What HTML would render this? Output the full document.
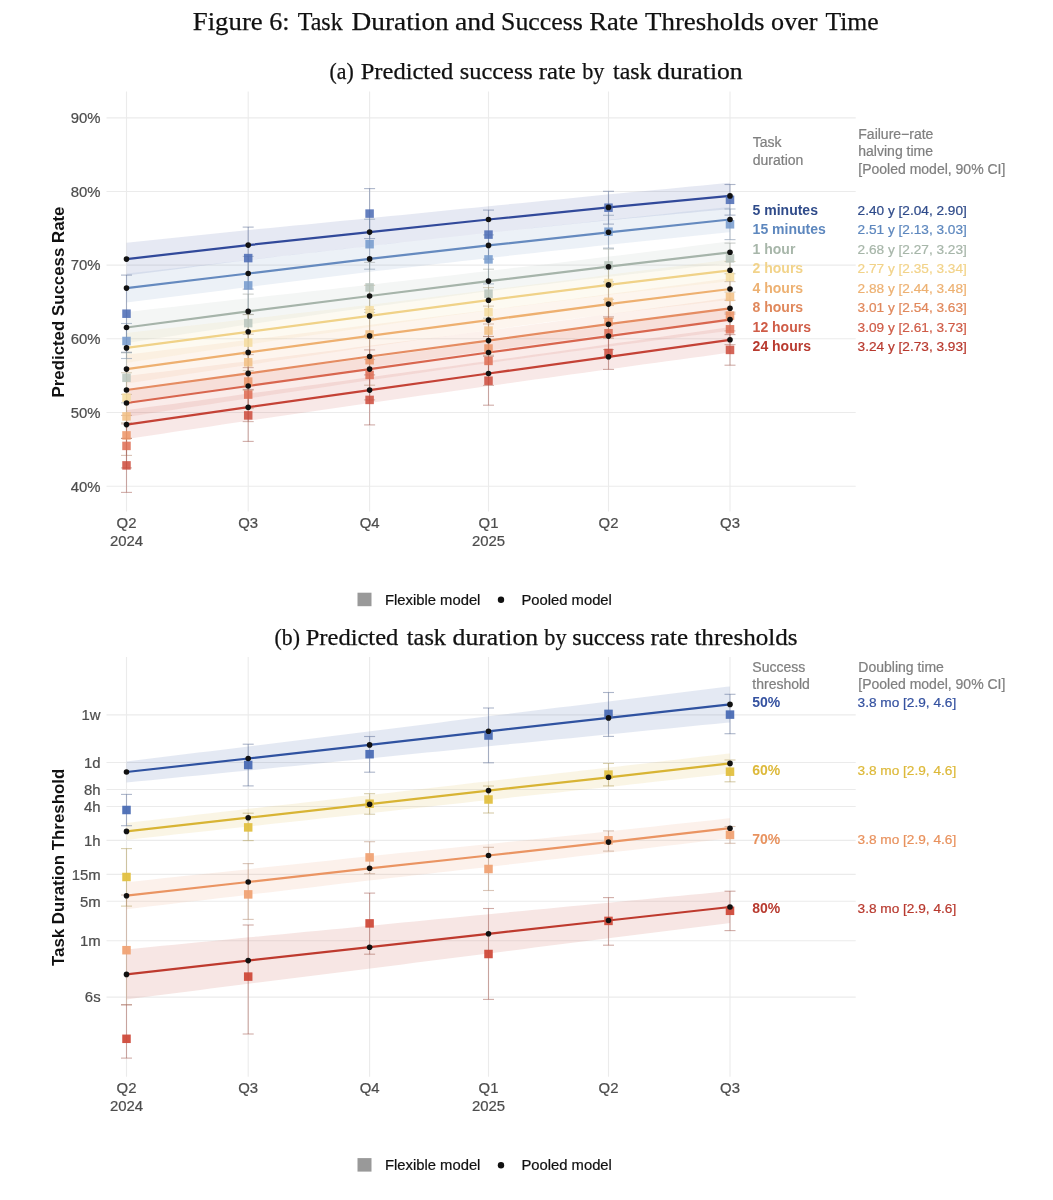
<!DOCTYPE html>
<html><head><meta charset="utf-8"><title>Figure 6: Task Duration and Success Rate Thresholds over Time</title>
<style>html,body{margin:0;padding:0;background:#fff;}body{width:1053px;height:1200px;overflow:hidden;}svg{display:block;will-change:transform;}.s{font-family:'Liberation Sans', sans-serif;}.t{font-family:'Liberation Serif', serif;}</style>
</head><body>
<svg width="1053" height="1200" viewBox="0 0 1053 1200">
<g class="t" font-size="26" fill="#111" stroke="#111" stroke-width="0.25">
<text x="192.77" y="30" textLength="69.95" lengthAdjust="spacingAndGlyphs">Figure</text>
<text x="269.29" y="30" textLength="20.35" lengthAdjust="spacingAndGlyphs">6:</text>
<text x="297.7" y="30" textLength="45.05" lengthAdjust="spacingAndGlyphs">Task</text>
<text x="351.55" y="30" textLength="97.2" lengthAdjust="spacingAndGlyphs">Duration</text>
<text x="454.93" y="30" textLength="40.05" lengthAdjust="spacingAndGlyphs">and</text>
<text x="501.01" y="30" textLength="81.92" lengthAdjust="spacingAndGlyphs">Success</text>
<text x="589.28" y="30" textLength="48.8" lengthAdjust="spacingAndGlyphs">Rate</text>
<text x="645" y="30" textLength="119.57" lengthAdjust="spacingAndGlyphs">Thresholds</text>
<text x="771.1" y="30" textLength="46.41" lengthAdjust="spacingAndGlyphs">over</text>
<text x="825.4" y="30" textLength="53.26" lengthAdjust="spacingAndGlyphs">Time</text>
</g>
<g class="t" font-size="23" fill="#111" stroke="#111" stroke-width="0.25">
<text x="329.55" y="79.4" textLength="24.15" lengthAdjust="spacingAndGlyphs">(a)</text>
<text x="360.73" y="79.4" textLength="92.62" lengthAdjust="spacingAndGlyphs">Predicted</text>
<text x="459.84" y="79.4" textLength="73" lengthAdjust="spacingAndGlyphs">success</text>
<text x="538.72" y="79.4" textLength="37.08" lengthAdjust="spacingAndGlyphs">rate</text>
<text x="582.2" y="79.4" textLength="22.2" lengthAdjust="spacingAndGlyphs">by</text>
<text x="613" y="79.4" textLength="38.46" lengthAdjust="spacingAndGlyphs">task</text>
<text x="657.08" y="79.4" textLength="85.65" lengthAdjust="spacingAndGlyphs">duration</text>
</g>
<g class="t" font-size="23" fill="#111" stroke="#111" stroke-width="0.25">
<text x="274.56" y="644.8" textLength="25.33" lengthAdjust="spacingAndGlyphs">(b)</text>
<text x="305.73" y="644.8" textLength="92.62" lengthAdjust="spacingAndGlyphs">Predicted</text>
<text x="406.8" y="644.8" textLength="39.27" lengthAdjust="spacingAndGlyphs">task</text>
<text x="452.58" y="644.8" textLength="85.55" lengthAdjust="spacingAndGlyphs">duration</text>
<text x="544.3" y="644.8" textLength="22.2" lengthAdjust="spacingAndGlyphs">by</text>
<text x="572.25" y="644.8" textLength="72.69" lengthAdjust="spacingAndGlyphs">success</text>
<text x="650.51" y="644.8" textLength="37.5" lengthAdjust="spacingAndGlyphs">rate</text>
<text x="694.4" y="644.8" textLength="103.11" lengthAdjust="spacingAndGlyphs">thresholds</text>
</g>
<line x1="106.5" x2="855.7" y1="117.9" y2="117.9" stroke="#EBEBEB" stroke-width="1.1"/>
<line x1="106.5" x2="855.7" y1="191.5" y2="191.5" stroke="#EBEBEB" stroke-width="1.1"/>
<line x1="106.5" x2="855.7" y1="265.1" y2="265.1" stroke="#EBEBEB" stroke-width="1.1"/>
<line x1="106.5" x2="855.7" y1="338.8" y2="338.8" stroke="#EBEBEB" stroke-width="1.1"/>
<line x1="106.5" x2="855.7" y1="412.5" y2="412.5" stroke="#EBEBEB" stroke-width="1.1"/>
<line x1="106.5" x2="855.7" y1="486.2" y2="486.2" stroke="#EBEBEB" stroke-width="1.1"/>
<line x1="126.5" x2="126.5" y1="91.5" y2="511.4" stroke="#EBEBEB" stroke-width="1.1"/>
<line x1="248.2" x2="248.2" y1="91.5" y2="511.4" stroke="#EBEBEB" stroke-width="1.1"/>
<line x1="369.6" x2="369.6" y1="91.5" y2="511.4" stroke="#EBEBEB" stroke-width="1.1"/>
<line x1="488.5" x2="488.5" y1="91.5" y2="511.4" stroke="#EBEBEB" stroke-width="1.1"/>
<line x1="608.5" x2="608.5" y1="91.5" y2="511.4" stroke="#EBEBEB" stroke-width="1.1"/>
<line x1="730" x2="730" y1="91.5" y2="511.4" stroke="#EBEBEB" stroke-width="1.1"/>
<text class="s" x="100.6" y="123.2" font-size="14.9" text-anchor="end" fill="#4D4D4D" stroke="#4D4D4D" stroke-width="0.22">90%</text>
<text class="s" x="100.6" y="196.8" font-size="14.9" text-anchor="end" fill="#4D4D4D" stroke="#4D4D4D" stroke-width="0.22">80%</text>
<text class="s" x="100.6" y="270.4" font-size="14.9" text-anchor="end" fill="#4D4D4D" stroke="#4D4D4D" stroke-width="0.22">70%</text>
<text class="s" x="100.6" y="344.1" font-size="14.9" text-anchor="end" fill="#4D4D4D" stroke="#4D4D4D" stroke-width="0.22">60%</text>
<text class="s" x="100.6" y="417.8" font-size="14.9" text-anchor="end" fill="#4D4D4D" stroke="#4D4D4D" stroke-width="0.22">50%</text>
<text class="s" x="100.6" y="491.5" font-size="14.9" text-anchor="end" fill="#4D4D4D" stroke="#4D4D4D" stroke-width="0.22">40%</text>
<polygon points="126.5,242.7 138.5,241.47 150.5,240.23 162.5,238.99 174.5,237.75 186.5,236.51 198.5,235.26 210.5,234.02 222.5,232.76 234.5,231.51 246.5,230.25 258.5,229.08 270.5,227.91 282.5,226.74 294.5,225.57 306.5,224.39 318.5,223.21 330.5,222.03 342.5,220.84 354.5,219.65 366.5,218.45 378.5,217.27 390.5,216.08 402.5,214.89 414.5,213.69 426.5,212.49 438.5,211.29 450.5,210.08 462.5,208.87 474.5,207.65 486.5,206.43 498.5,205.26 510.5,204.09 522.5,202.92 534.5,201.75 546.5,200.57 558.5,199.38 570.5,198.19 582.5,197 594.5,195.8 606.5,194.6 618.5,193.45 630.5,192.32 642.5,191.17 654.5,190.03 666.5,188.88 678.5,187.72 690.5,186.56 702.5,185.4 714.5,184.23 726.5,183.05 730,182.71 730,209.09 726.5,209.41 714.5,210.51 702.5,211.61 690.5,212.72 678.5,213.83 666.5,214.94 654.5,216.06 642.5,217.19 630.5,218.32 618.5,219.45 606.5,220.6 594.5,221.82 582.5,223.04 570.5,224.27 558.5,225.5 546.5,226.74 534.5,227.98 522.5,229.22 510.5,230.47 498.5,231.72 486.5,232.99 474.5,234.31 462.5,235.64 450.5,236.97 438.5,238.31 426.5,239.65 414.5,240.99 402.5,242.34 390.5,243.69 378.5,245.05 366.5,246.41 354.5,247.79 342.5,249.17 330.5,250.55 318.5,251.94 306.5,253.33 294.5,254.72 282.5,256.12 270.5,257.52 258.5,258.92 246.5,260.34 234.5,261.84 222.5,263.35 210.5,264.86 198.5,266.37 186.5,267.89 174.5,269.4 162.5,270.92 150.5,272.45 138.5,273.97 126.5,275.5" fill="#31499A" fill-opacity="0.12"/>
<polygon points="126.5,273.6 138.5,272.25 150.5,270.91 162.5,269.56 174.5,268.2 186.5,266.85 198.5,265.5 210.5,264.14 222.5,262.78 234.5,261.42 246.5,260.05 258.5,258.68 270.5,257.31 282.5,255.94 294.5,254.56 306.5,253.18 318.5,251.8 330.5,250.42 342.5,249.04 354.5,247.65 366.5,246.26 378.5,244.93 390.5,243.61 402.5,242.29 414.5,240.97 426.5,239.65 438.5,238.33 450.5,237 462.5,235.67 474.5,234.34 486.5,233 498.5,231.71 510.5,230.42 522.5,229.13 534.5,227.84 546.5,226.54 558.5,225.24 570.5,223.94 582.5,222.64 594.5,221.33 606.5,220.02 618.5,218.74 630.5,217.47 642.5,216.2 654.5,214.93 666.5,213.65 678.5,212.37 690.5,211.08 702.5,209.8 714.5,208.51 726.5,207.22 730,206.84 730,232.16 726.5,232.52 714.5,233.76 702.5,235 690.5,236.24 678.5,237.48 666.5,238.73 654.5,239.98 642.5,241.24 630.5,242.49 618.5,243.75 606.5,245.02 594.5,246.33 582.5,247.64 570.5,248.96 558.5,250.27 546.5,251.6 534.5,252.92 522.5,254.25 510.5,255.58 498.5,256.91 486.5,258.25 474.5,259.64 462.5,261.03 450.5,262.43 438.5,263.83 426.5,265.23 414.5,266.63 402.5,268.03 390.5,269.44 378.5,270.85 366.5,272.29 354.5,273.78 342.5,275.28 330.5,276.78 318.5,278.29 306.5,279.79 294.5,281.3 282.5,282.81 270.5,284.32 258.5,285.84 246.5,287.35 234.5,288.87 222.5,290.39 210.5,291.91 198.5,293.43 186.5,294.95 174.5,296.48 162.5,298.01 150.5,299.54 138.5,301.07 126.5,302.6" fill="#658ABF" fill-opacity="0.12"/>
<polygon points="126.5,312 138.5,310.66 150.5,309.32 162.5,307.98 174.5,306.63 186.5,305.28 198.5,303.92 210.5,302.56 222.5,301.2 234.5,299.83 246.5,298.46 258.5,297.14 270.5,295.82 282.5,294.5 294.5,293.17 306.5,291.84 318.5,290.5 330.5,289.16 342.5,287.81 354.5,286.45 366.5,285.08 378.5,283.72 390.5,282.36 402.5,280.99 414.5,279.61 426.5,278.23 438.5,276.83 450.5,275.42 462.5,274.01 474.5,272.59 486.5,271.15 498.5,269.76 510.5,268.37 522.5,266.97 534.5,265.56 546.5,264.13 558.5,262.7 570.5,261.26 582.5,259.8 594.5,258.34 606.5,256.86 618.5,255.39 630.5,253.91 642.5,252.42 654.5,250.92 666.5,249.41 678.5,247.89 690.5,246.36 702.5,244.83 714.5,243.28 726.5,241.73 730,241.27 730,263.33 726.5,263.7 714.5,264.99 702.5,266.29 690.5,267.6 678.5,268.91 666.5,270.24 654.5,271.58 642.5,272.92 630.5,274.28 618.5,275.64 606.5,277.02 594.5,278.42 582.5,279.84 570.5,281.26 558.5,282.7 546.5,284.15 534.5,285.6 522.5,287.07 510.5,288.55 498.5,290.04 486.5,291.55 474.5,293.12 462.5,294.71 450.5,296.3 438.5,297.9 426.5,299.51 414.5,301.13 402.5,302.76 390.5,304.4 378.5,306.05 366.5,307.7 354.5,309.38 342.5,311.07 330.5,312.76 318.5,314.46 306.5,316.17 294.5,317.88 282.5,319.6 270.5,321.32 258.5,323.05 246.5,324.79 234.5,326.59 222.5,328.4 210.5,330.21 198.5,332.03 186.5,333.85 174.5,335.67 162.5,337.5 150.5,339.33 138.5,341.16 126.5,343" fill="#A6B4AA" fill-opacity="0.12"/>
<polygon points="126.5,332.9 138.5,331.54 150.5,330.18 162.5,328.82 174.5,327.45 186.5,326.08 198.5,324.7 210.5,323.32 222.5,321.94 234.5,320.56 246.5,319.17 258.5,317.78 270.5,316.4 282.5,315.01 294.5,313.62 306.5,312.22 318.5,310.81 330.5,309.4 342.5,307.98 354.5,306.56 366.5,305.13 378.5,303.68 390.5,302.23 402.5,300.76 414.5,299.29 426.5,297.81 438.5,296.32 450.5,294.83 462.5,293.32 474.5,291.81 486.5,290.29 498.5,288.8 510.5,287.31 522.5,285.82 534.5,284.31 546.5,282.8 558.5,281.27 570.5,279.74 582.5,278.2 594.5,276.65 606.5,275.08 618.5,273.59 630.5,272.09 642.5,270.59 654.5,269.08 666.5,267.56 678.5,266.03 690.5,264.5 702.5,262.95 714.5,261.4 726.5,259.84 730,259.38 730,281.22 726.5,281.6 714.5,282.93 702.5,284.26 690.5,285.6 678.5,286.95 666.5,288.3 654.5,289.67 642.5,291.04 630.5,292.42 618.5,293.81 606.5,295.23 594.5,296.72 582.5,298.23 570.5,299.75 558.5,301.28 546.5,302.81 534.5,304.36 522.5,305.91 510.5,307.48 498.5,309.05 486.5,310.64 474.5,312.29 462.5,313.94 450.5,315.61 438.5,317.28 426.5,318.96 414.5,320.65 402.5,322.35 390.5,324.05 378.5,325.77 366.5,327.48 354.5,329.2 342.5,330.92 330.5,332.64 318.5,334.37 306.5,336.11 294.5,337.86 282.5,339.6 270.5,341.36 258.5,343.12 246.5,344.88 234.5,346.67 222.5,348.46 210.5,350.25 198.5,352.05 186.5,353.85 174.5,355.65 162.5,357.46 150.5,359.27 138.5,361.08 126.5,362.9" fill="#F0D288" fill-opacity="0.12"/>
<polygon points="126.5,354.6 138.5,353.16 150.5,351.72 162.5,350.28 174.5,348.83 186.5,347.38 198.5,345.93 210.5,344.47 222.5,343.01 234.5,341.55 246.5,340.08 258.5,338.62 270.5,337.16 282.5,335.69 294.5,334.22 306.5,332.74 318.5,331.26 330.5,329.77 342.5,328.28 354.5,326.78 366.5,325.28 378.5,323.79 390.5,322.31 402.5,320.83 414.5,319.33 426.5,317.83 438.5,316.32 450.5,314.8 462.5,313.28 474.5,311.75 486.5,310.21 498.5,308.66 510.5,307.1 522.5,305.53 534.5,303.95 546.5,302.36 558.5,300.77 570.5,299.16 582.5,297.55 594.5,295.93 606.5,294.3 618.5,292.76 630.5,291.22 642.5,289.68 654.5,288.12 666.5,286.56 678.5,285 690.5,283.42 702.5,281.84 714.5,280.25 726.5,278.65 730,278.19 730,299.81 726.5,300.22 714.5,301.6 702.5,303 690.5,304.4 678.5,305.8 666.5,307.22 654.5,308.64 642.5,310.07 630.5,311.51 618.5,312.96 606.5,314.43 594.5,316 582.5,317.58 570.5,319.17 558.5,320.77 546.5,322.37 534.5,323.99 522.5,325.61 510.5,327.24 498.5,328.88 486.5,330.52 474.5,332.17 462.5,333.83 450.5,335.5 438.5,337.17 426.5,338.85 414.5,340.54 402.5,342.23 390.5,343.93 378.5,345.64 366.5,347.37 354.5,349.12 342.5,350.89 330.5,352.66 318.5,354.43 306.5,356.21 294.5,358 282.5,359.79 270.5,361.58 258.5,363.38 246.5,365.19 234.5,367.01 222.5,368.84 210.5,370.68 198.5,372.51 186.5,374.35 174.5,376.19 162.5,378.04 150.5,379.89 138.5,381.74 126.5,383.6" fill="#EEB070" fill-opacity="0.12"/>
<polygon points="126.5,376 138.5,374.55 150.5,373.1 162.5,371.65 174.5,370.19 186.5,368.73 198.5,367.27 210.5,365.8 222.5,364.33 234.5,362.85 246.5,361.38 258.5,359.87 270.5,358.35 282.5,356.82 294.5,355.29 306.5,353.76 318.5,352.22 330.5,350.68 342.5,349.13 354.5,347.58 366.5,346.02 378.5,344.5 390.5,343 402.5,341.49 414.5,339.97 426.5,338.45 438.5,336.92 450.5,335.38 462.5,333.84 474.5,332.29 486.5,330.73 498.5,329.14 510.5,327.53 522.5,325.92 534.5,324.3 546.5,322.67 558.5,321.03 570.5,319.39 582.5,317.74 594.5,316.08 606.5,314.42 618.5,312.8 630.5,311.19 642.5,309.58 654.5,307.95 666.5,306.32 678.5,304.69 690.5,303.04 702.5,301.39 714.5,299.74 726.5,298.07 730,297.59 730,319.01 726.5,319.44 714.5,320.92 702.5,322.4 690.5,323.9 678.5,325.39 666.5,326.9 654.5,328.41 642.5,329.92 630.5,331.45 618.5,332.98 606.5,334.53 594.5,336.14 582.5,337.77 570.5,339.4 558.5,341.03 546.5,342.68 534.5,344.33 522.5,345.99 510.5,347.66 498.5,349.33 486.5,351 474.5,352.66 462.5,354.32 450.5,355.98 438.5,357.66 426.5,359.34 414.5,361.02 402.5,362.72 390.5,364.41 378.5,366.12 366.5,367.85 354.5,369.63 342.5,371.42 330.5,373.21 318.5,375.01 306.5,376.81 294.5,378.62 282.5,380.43 270.5,382.25 258.5,384.07 246.5,385.89 234.5,387.68 222.5,389.48 210.5,391.29 198.5,393.09 186.5,394.9 174.5,396.72 162.5,398.53 150.5,400.35 138.5,402.17 126.5,404" fill="#E58C62" fill-opacity="0.12"/>
<polygon points="126.5,389 138.5,387.49 150.5,385.98 162.5,384.47 174.5,382.95 186.5,381.43 198.5,379.91 210.5,378.38 222.5,376.85 234.5,375.32 246.5,373.78 258.5,372.25 270.5,370.71 282.5,369.17 294.5,367.62 306.5,366.07 318.5,364.51 330.5,362.95 342.5,361.39 354.5,359.82 366.5,358.25 378.5,356.66 390.5,355.08 402.5,353.48 414.5,351.88 426.5,350.28 438.5,348.66 450.5,347.05 462.5,345.43 474.5,343.8 486.5,342.16 498.5,340.55 510.5,338.94 522.5,337.32 534.5,335.7 546.5,334.07 558.5,332.43 570.5,330.79 582.5,329.14 594.5,327.49 606.5,325.83 618.5,324.17 630.5,322.5 642.5,320.84 654.5,319.16 666.5,317.48 678.5,315.79 690.5,314.1 702.5,312.4 714.5,310.7 726.5,308.99 730,308.49 730,330.71 726.5,331.16 714.5,332.71 702.5,334.27 690.5,335.83 678.5,337.39 666.5,338.97 654.5,340.55 642.5,342.13 630.5,343.72 618.5,345.32 606.5,346.92 594.5,348.54 582.5,350.16 570.5,351.8 558.5,353.43 546.5,355.08 534.5,356.73 522.5,358.38 510.5,360.05 498.5,361.72 486.5,363.4 474.5,365.11 462.5,366.83 450.5,368.56 438.5,370.3 426.5,372.04 414.5,373.78 402.5,375.53 390.5,377.29 378.5,379.05 366.5,380.82 354.5,382.58 342.5,384.35 330.5,386.13 318.5,387.91 306.5,389.7 294.5,391.49 282.5,393.28 270.5,395.08 258.5,396.88 246.5,398.69 234.5,400.51 222.5,402.33 210.5,404.15 198.5,405.98 186.5,407.81 174.5,409.64 162.5,411.47 150.5,413.31 138.5,415.16 126.5,417" fill="#D8664F" fill-opacity="0.12"/>
<polygon points="126.5,410.1 138.5,408.49 150.5,406.87 162.5,405.25 174.5,403.63 186.5,402.01 198.5,400.38 210.5,398.76 222.5,397.13 234.5,395.5 246.5,393.86 258.5,392.24 270.5,390.63 282.5,389.01 294.5,387.39 306.5,385.77 318.5,384.14 330.5,382.52 342.5,380.88 354.5,379.25 366.5,377.61 378.5,375.98 390.5,374.36 402.5,372.72 414.5,371.09 426.5,369.45 438.5,367.81 450.5,366.17 462.5,364.52 474.5,362.87 486.5,361.22 498.5,359.56 510.5,357.91 522.5,356.25 534.5,354.59 546.5,352.93 558.5,351.26 570.5,349.59 582.5,347.91 594.5,346.23 606.5,344.55 618.5,342.86 630.5,341.16 642.5,339.46 654.5,337.76 666.5,336.06 678.5,334.35 690.5,332.63 702.5,330.92 714.5,329.2 726.5,327.48 730,326.97 730,352.63 726.5,353.1 714.5,354.74 702.5,356.38 690.5,358.02 678.5,359.67 666.5,361.31 654.5,362.97 642.5,364.62 630.5,366.28 618.5,367.94 606.5,369.6 594.5,371.26 582.5,372.92 570.5,374.59 558.5,376.26 546.5,377.93 534.5,379.61 522.5,381.28 510.5,382.97 498.5,384.65 486.5,386.34 474.5,388.04 462.5,389.74 450.5,391.44 438.5,393.15 426.5,394.86 414.5,396.57 402.5,398.29 390.5,400.01 378.5,401.73 366.5,403.46 354.5,405.2 342.5,406.95 330.5,408.7 318.5,410.45 306.5,412.21 294.5,413.96 282.5,415.72 270.5,417.49 258.5,419.25 246.5,421.03 234.5,422.82 222.5,424.62 210.5,426.42 198.5,428.23 186.5,430.03 174.5,431.84 162.5,433.65 150.5,435.47 138.5,437.28 126.5,439.1" fill="#C44236" fill-opacity="0.12"/>
<g stroke="#5B6D95" stroke-opacity="0.5" stroke-width="1.1">
<line x1="126.5" x2="126.5" y1="275.1" y2="352.3"/>
<line x1="121" x2="132" y1="275.1" y2="275.1"/>
<line x1="121" x2="132" y1="352.3" y2="352.3"/>
</g>
<g stroke="#5B6D95" stroke-opacity="0.5" stroke-width="1.1">
<line x1="248.2" x2="248.2" y1="227.1" y2="289.1"/>
<line x1="242.7" x2="253.7" y1="227.1" y2="227.1"/>
<line x1="242.7" x2="253.7" y1="289.1" y2="289.1"/>
</g>
<g stroke="#5B6D95" stroke-opacity="0.5" stroke-width="1.1">
<line x1="369.6" x2="369.6" y1="188.6" y2="238.6"/>
<line x1="364.1" x2="375.1" y1="188.6" y2="188.6"/>
<line x1="364.1" x2="375.1" y1="238.6" y2="238.6"/>
</g>
<g stroke="#5B6D95" stroke-opacity="0.5" stroke-width="1.1">
<line x1="488.5" x2="488.5" y1="210.1" y2="259.1"/>
<line x1="483" x2="494" y1="210.1" y2="210.1"/>
<line x1="483" x2="494" y1="259.1" y2="259.1"/>
</g>
<g stroke="#5B6D95" stroke-opacity="0.5" stroke-width="1.1">
<line x1="608.5" x2="608.5" y1="191.3" y2="224.1"/>
<line x1="603" x2="614" y1="191.3" y2="191.3"/>
<line x1="603" x2="614" y1="224.1" y2="224.1"/>
</g>
<g stroke="#5B6D95" stroke-opacity="0.5" stroke-width="1.1">
<line x1="730" x2="730" y1="184.5" y2="215.1"/>
<line x1="724.5" x2="735.5" y1="184.5" y2="184.5"/>
<line x1="724.5" x2="735.5" y1="215.1" y2="215.1"/>
</g>
<g stroke="#7287A3" stroke-opacity="0.5" stroke-width="1.1">
<line x1="126.5" x2="126.5" y1="323.5" y2="358.5"/>
<line x1="121" x2="132" y1="323.5" y2="323.5"/>
<line x1="121" x2="132" y1="358.5" y2="358.5"/>
</g>
<g stroke="#7287A3" stroke-opacity="0.5" stroke-width="1.1">
<line x1="248.2" x2="248.2" y1="256.4" y2="314.4"/>
<line x1="242.7" x2="253.7" y1="256.4" y2="256.4"/>
<line x1="242.7" x2="253.7" y1="314.4" y2="314.4"/>
</g>
<g stroke="#7287A3" stroke-opacity="0.5" stroke-width="1.1">
<line x1="369.6" x2="369.6" y1="219.2" y2="269.2"/>
<line x1="364.1" x2="375.1" y1="219.2" y2="219.2"/>
<line x1="364.1" x2="375.1" y1="269.2" y2="269.2"/>
</g>
<g stroke="#7287A3" stroke-opacity="0.5" stroke-width="1.1">
<line x1="488.5" x2="488.5" y1="234.9" y2="283.9"/>
<line x1="483" x2="494" y1="234.9" y2="234.9"/>
<line x1="483" x2="494" y1="283.9" y2="283.9"/>
</g>
<g stroke="#7287A3" stroke-opacity="0.5" stroke-width="1.1">
<line x1="608.5" x2="608.5" y1="215.3" y2="248.1"/>
<line x1="603" x2="614" y1="215.3" y2="215.3"/>
<line x1="603" x2="614" y1="248.1" y2="248.1"/>
</g>
<g stroke="#7287A3" stroke-opacity="0.5" stroke-width="1.1">
<line x1="730" x2="730" y1="209" y2="239.6"/>
<line x1="724.5" x2="735.5" y1="209" y2="209"/>
<line x1="724.5" x2="735.5" y1="239.6" y2="239.6"/>
</g>
<g stroke="#989F9A" stroke-opacity="0.5" stroke-width="1.1">
<line x1="126.5" x2="126.5" y1="352.8" y2="402.8"/>
<line x1="121" x2="132" y1="352.8" y2="352.8"/>
<line x1="121" x2="132" y1="402.8" y2="402.8"/>
</g>
<g stroke="#989F9A" stroke-opacity="0.5" stroke-width="1.1">
<line x1="248.2" x2="248.2" y1="294.1" y2="352.1"/>
<line x1="242.7" x2="253.7" y1="294.1" y2="294.1"/>
<line x1="242.7" x2="253.7" y1="352.1" y2="352.1"/>
</g>
<g stroke="#989F9A" stroke-opacity="0.5" stroke-width="1.1">
<line x1="369.6" x2="369.6" y1="262.4" y2="312.4"/>
<line x1="364.1" x2="375.1" y1="262.4" y2="262.4"/>
<line x1="364.1" x2="375.1" y1="312.4" y2="312.4"/>
</g>
<g stroke="#989F9A" stroke-opacity="0.5" stroke-width="1.1">
<line x1="488.5" x2="488.5" y1="269.2" y2="318.2"/>
<line x1="483" x2="494" y1="269.2" y2="269.2"/>
<line x1="483" x2="494" y1="318.2" y2="318.2"/>
</g>
<g stroke="#989F9A" stroke-opacity="0.5" stroke-width="1.1">
<line x1="608.5" x2="608.5" y1="249" y2="281.8"/>
<line x1="603" x2="614" y1="249" y2="249"/>
<line x1="603" x2="614" y1="281.8" y2="281.8"/>
</g>
<g stroke="#989F9A" stroke-opacity="0.5" stroke-width="1.1">
<line x1="730" x2="730" y1="243.1" y2="273.7"/>
<line x1="724.5" x2="735.5" y1="243.1" y2="243.1"/>
<line x1="724.5" x2="735.5" y1="273.7" y2="273.7"/>
</g>
<g stroke="#B9AB89" stroke-opacity="0.5" stroke-width="1.1">
<line x1="126.5" x2="126.5" y1="372.7" y2="422.7"/>
<line x1="121" x2="132" y1="372.7" y2="372.7"/>
<line x1="121" x2="132" y1="422.7" y2="422.7"/>
</g>
<g stroke="#B9AB89" stroke-opacity="0.5" stroke-width="1.1">
<line x1="248.2" x2="248.2" y1="314.6" y2="370.6"/>
<line x1="242.7" x2="253.7" y1="314.6" y2="314.6"/>
<line x1="242.7" x2="253.7" y1="370.6" y2="370.6"/>
</g>
<g stroke="#B9AB89" stroke-opacity="0.5" stroke-width="1.1">
<line x1="369.6" x2="369.6" y1="285.3" y2="335.3"/>
<line x1="364.1" x2="375.1" y1="285.3" y2="285.3"/>
<line x1="364.1" x2="375.1" y1="335.3" y2="335.3"/>
</g>
<g stroke="#B9AB89" stroke-opacity="0.5" stroke-width="1.1">
<line x1="488.5" x2="488.5" y1="287.6" y2="336.6"/>
<line x1="483" x2="494" y1="287.6" y2="287.6"/>
<line x1="483" x2="494" y1="336.6" y2="336.6"/>
</g>
<g stroke="#B9AB89" stroke-opacity="0.5" stroke-width="1.1">
<line x1="608.5" x2="608.5" y1="266.6" y2="299.4"/>
<line x1="603" x2="614" y1="266.6" y2="266.6"/>
<line x1="603" x2="614" y1="299.4" y2="299.4"/>
</g>
<g stroke="#B9AB89" stroke-opacity="0.5" stroke-width="1.1">
<line x1="730" x2="730" y1="261.5" y2="292.1"/>
<line x1="724.5" x2="735.5" y1="261.5" y2="261.5"/>
<line x1="724.5" x2="735.5" y1="292.1" y2="292.1"/>
</g>
<g stroke="#B89C7B" stroke-opacity="0.5" stroke-width="1.1">
<line x1="126.5" x2="126.5" y1="394.4" y2="438.4"/>
<line x1="121" x2="132" y1="394.4" y2="394.4"/>
<line x1="121" x2="132" y1="438.4" y2="438.4"/>
</g>
<g stroke="#B89C7B" stroke-opacity="0.5" stroke-width="1.1">
<line x1="248.2" x2="248.2" y1="334.3" y2="390.3"/>
<line x1="242.7" x2="253.7" y1="334.3" y2="334.3"/>
<line x1="242.7" x2="253.7" y1="390.3" y2="390.3"/>
</g>
<g stroke="#B89C7B" stroke-opacity="0.5" stroke-width="1.1">
<line x1="369.6" x2="369.6" y1="309.5" y2="359.5"/>
<line x1="364.1" x2="375.1" y1="309.5" y2="309.5"/>
<line x1="364.1" x2="375.1" y1="359.5" y2="359.5"/>
</g>
<g stroke="#B89C7B" stroke-opacity="0.5" stroke-width="1.1">
<line x1="488.5" x2="488.5" y1="306.1" y2="355.1"/>
<line x1="483" x2="494" y1="306.1" y2="306.1"/>
<line x1="483" x2="494" y1="355.1" y2="355.1"/>
</g>
<g stroke="#B89C7B" stroke-opacity="0.5" stroke-width="1.1">
<line x1="608.5" x2="608.5" y1="285.4" y2="318.2"/>
<line x1="603" x2="614" y1="285.4" y2="285.4"/>
<line x1="603" x2="614" y1="318.2" y2="318.2"/>
</g>
<g stroke="#B89C7B" stroke-opacity="0.5" stroke-width="1.1">
<line x1="730" x2="730" y1="281.6" y2="312.2"/>
<line x1="724.5" x2="735.5" y1="281.6" y2="281.6"/>
<line x1="724.5" x2="735.5" y1="312.2" y2="312.2"/>
</g>
<g stroke="#B4846A" stroke-opacity="0.5" stroke-width="1.1">
<line x1="126.5" x2="126.5" y1="415.4" y2="455.4"/>
<line x1="121" x2="132" y1="415.4" y2="415.4"/>
<line x1="121" x2="132" y1="455.4" y2="455.4"/>
</g>
<g stroke="#B4846A" stroke-opacity="0.5" stroke-width="1.1">
<line x1="248.2" x2="248.2" y1="354.6" y2="408.6"/>
<line x1="242.7" x2="253.7" y1="354.6" y2="354.6"/>
<line x1="242.7" x2="253.7" y1="408.6" y2="408.6"/>
</g>
<g stroke="#B4846A" stroke-opacity="0.5" stroke-width="1.1">
<line x1="369.6" x2="369.6" y1="335.2" y2="385.2"/>
<line x1="364.1" x2="375.1" y1="335.2" y2="335.2"/>
<line x1="364.1" x2="375.1" y1="385.2" y2="385.2"/>
</g>
<g stroke="#B4846A" stroke-opacity="0.5" stroke-width="1.1">
<line x1="488.5" x2="488.5" y1="324" y2="373"/>
<line x1="483" x2="494" y1="324" y2="324"/>
<line x1="483" x2="494" y1="373" y2="373"/>
</g>
<g stroke="#B4846A" stroke-opacity="0.5" stroke-width="1.1">
<line x1="608.5" x2="608.5" y1="305.5" y2="338.3"/>
<line x1="603" x2="614" y1="305.5" y2="305.5"/>
<line x1="603" x2="614" y1="338.3" y2="338.3"/>
</g>
<g stroke="#B4846A" stroke-opacity="0.5" stroke-width="1.1">
<line x1="730" x2="730" y1="300.3" y2="330.9"/>
<line x1="724.5" x2="735.5" y1="300.3" y2="300.3"/>
<line x1="724.5" x2="735.5" y1="330.9" y2="330.9"/>
</g>
<g stroke="#AC6E60" stroke-opacity="0.5" stroke-width="1.1">
<line x1="126.5" x2="126.5" y1="423.9" y2="467.9"/>
<line x1="121" x2="132" y1="423.9" y2="423.9"/>
<line x1="121" x2="132" y1="467.9" y2="467.9"/>
</g>
<g stroke="#AC6E60" stroke-opacity="0.5" stroke-width="1.1">
<line x1="248.2" x2="248.2" y1="367.6" y2="421.6"/>
<line x1="242.7" x2="253.7" y1="367.6" y2="367.6"/>
<line x1="242.7" x2="253.7" y1="421.6" y2="421.6"/>
</g>
<g stroke="#AC6E60" stroke-opacity="0.5" stroke-width="1.1">
<line x1="369.6" x2="369.6" y1="349.9" y2="399.9"/>
<line x1="364.1" x2="375.1" y1="349.9" y2="349.9"/>
<line x1="364.1" x2="375.1" y1="399.9" y2="399.9"/>
</g>
<g stroke="#AC6E60" stroke-opacity="0.5" stroke-width="1.1">
<line x1="488.5" x2="488.5" y1="336.4" y2="385.4"/>
<line x1="483" x2="494" y1="336.4" y2="336.4"/>
<line x1="483" x2="494" y1="385.4" y2="385.4"/>
</g>
<g stroke="#AC6E60" stroke-opacity="0.5" stroke-width="1.1">
<line x1="608.5" x2="608.5" y1="316.8" y2="349.6"/>
<line x1="603" x2="614" y1="316.8" y2="316.8"/>
<line x1="603" x2="614" y1="349.6" y2="349.6"/>
</g>
<g stroke="#AC6E60" stroke-opacity="0.5" stroke-width="1.1">
<line x1="730" x2="730" y1="314" y2="344.6"/>
<line x1="724.5" x2="735.5" y1="314" y2="314"/>
<line x1="724.5" x2="735.5" y1="344.6" y2="344.6"/>
</g>
<g stroke="#A35C53" stroke-opacity="0.5" stroke-width="1.1">
<line x1="126.5" x2="126.5" y1="438.4" y2="492.4"/>
<line x1="121" x2="132" y1="438.4" y2="438.4"/>
<line x1="121" x2="132" y1="492.4" y2="492.4"/>
</g>
<g stroke="#A35C53" stroke-opacity="0.5" stroke-width="1.1">
<line x1="248.2" x2="248.2" y1="389.4" y2="441.4"/>
<line x1="242.7" x2="253.7" y1="389.4" y2="389.4"/>
<line x1="242.7" x2="253.7" y1="441.4" y2="441.4"/>
</g>
<g stroke="#A35C53" stroke-opacity="0.5" stroke-width="1.1">
<line x1="369.6" x2="369.6" y1="374.9" y2="424.9"/>
<line x1="364.1" x2="375.1" y1="374.9" y2="374.9"/>
<line x1="364.1" x2="375.1" y1="424.9" y2="424.9"/>
</g>
<g stroke="#A35C53" stroke-opacity="0.5" stroke-width="1.1">
<line x1="488.5" x2="488.5" y1="356.2" y2="405.2"/>
<line x1="483" x2="494" y1="356.2" y2="356.2"/>
<line x1="483" x2="494" y1="405.2" y2="405.2"/>
</g>
<g stroke="#A35C53" stroke-opacity="0.5" stroke-width="1.1">
<line x1="608.5" x2="608.5" y1="336.6" y2="369.4"/>
<line x1="603" x2="614" y1="336.6" y2="336.6"/>
<line x1="603" x2="614" y1="369.4" y2="369.4"/>
</g>
<g stroke="#A35C53" stroke-opacity="0.5" stroke-width="1.1">
<line x1="730" x2="730" y1="334.6" y2="365.2"/>
<line x1="724.5" x2="735.5" y1="334.6" y2="334.6"/>
<line x1="724.5" x2="735.5" y1="365.2" y2="365.2"/>
</g>
<polyline points="126.5,259.1 248.2,245.1 369.6,232.1 488.5,219.5 608.5,207.4 730,195.9" fill="none" stroke="#31499A" stroke-width="2.25" stroke-linejoin="round"/>
<polyline points="126.5,288.1 248.2,273.5 369.6,258.9 488.5,245.4 608.5,232.3 730,219.5" fill="none" stroke="#658ABF" stroke-width="2.25" stroke-linejoin="round"/>
<polyline points="126.5,327.5 248.2,311.4 369.6,296 488.5,281.1 608.5,266.7 730,252.3" fill="none" stroke="#A6B4AA" stroke-width="2.25" stroke-linejoin="round"/>
<polyline points="126.5,347.9 248.2,331.8 369.6,315.9 488.5,300.2 608.5,284.9 730,270.3" fill="none" stroke="#F0D288" stroke-width="2.25" stroke-linejoin="round"/>
<polyline points="126.5,369.1 248.2,352.4 369.6,335.9 488.5,320.1 608.5,304.1 730,289" fill="none" stroke="#EEB070" stroke-width="2.25" stroke-linejoin="round"/>
<polyline points="126.5,390 248.2,373.4 369.6,356.5 488.5,340.6 608.5,324.2 730,308.3" fill="none" stroke="#E58C62" stroke-width="2.25" stroke-linejoin="round"/>
<polyline points="126.5,403 248.2,386 369.6,369.1 488.5,352.5 608.5,336.1 730,319.6" fill="none" stroke="#D8664F" stroke-width="2.25" stroke-linejoin="round"/>
<polyline points="126.5,424.6 248.2,407.2 369.6,390.1 488.5,373.5 608.5,356.8 730,339.8" fill="none" stroke="#C44236" stroke-width="2.25" stroke-linejoin="round"/>
<rect x="122.25" y="309.45" width="8.5" height="8.5" fill="#4A6AB4" fill-opacity="0.85"/>
<rect x="243.95" y="253.85" width="8.5" height="8.5" fill="#4A6AB4" fill-opacity="0.85"/>
<rect x="365.35" y="209.35" width="8.5" height="8.5" fill="#4A6AB4" fill-opacity="0.85"/>
<rect x="484.25" y="230.35" width="8.5" height="8.5" fill="#4A6AB4" fill-opacity="0.85"/>
<rect x="604.25" y="203.45" width="8.5" height="8.5" fill="#4A6AB4" fill-opacity="0.85"/>
<rect x="725.75" y="195.55" width="8.5" height="8.5" fill="#4A6AB4" fill-opacity="0.85"/>
<rect x="122.25" y="336.75" width="8.5" height="8.5" fill="#7399CC" fill-opacity="0.85"/>
<rect x="243.95" y="281.15" width="8.5" height="8.5" fill="#7399CC" fill-opacity="0.85"/>
<rect x="365.35" y="239.95" width="8.5" height="8.5" fill="#7399CC" fill-opacity="0.85"/>
<rect x="484.25" y="255.15" width="8.5" height="8.5" fill="#7399CC" fill-opacity="0.85"/>
<rect x="604.25" y="227.45" width="8.5" height="8.5" fill="#7399CC" fill-opacity="0.85"/>
<rect x="725.75" y="220.05" width="8.5" height="8.5" fill="#7399CC" fill-opacity="0.85"/>
<rect x="122.25" y="373.55" width="8.5" height="8.5" fill="#B9C6BD" fill-opacity="0.85"/>
<rect x="243.95" y="318.85" width="8.5" height="8.5" fill="#B9C6BD" fill-opacity="0.85"/>
<rect x="365.35" y="283.15" width="8.5" height="8.5" fill="#B9C6BD" fill-opacity="0.85"/>
<rect x="484.25" y="289.45" width="8.5" height="8.5" fill="#B9C6BD" fill-opacity="0.85"/>
<rect x="604.25" y="261.15" width="8.5" height="8.5" fill="#B9C6BD" fill-opacity="0.85"/>
<rect x="725.75" y="254.15" width="8.5" height="8.5" fill="#B9C6BD" fill-opacity="0.85"/>
<rect x="122.25" y="393.45" width="8.5" height="8.5" fill="#F5DC9E" fill-opacity="0.85"/>
<rect x="243.95" y="338.35" width="8.5" height="8.5" fill="#F5DC9E" fill-opacity="0.85"/>
<rect x="365.35" y="306.05" width="8.5" height="8.5" fill="#F5DC9E" fill-opacity="0.85"/>
<rect x="484.25" y="307.85" width="8.5" height="8.5" fill="#F5DC9E" fill-opacity="0.85"/>
<rect x="604.25" y="278.75" width="8.5" height="8.5" fill="#F5DC9E" fill-opacity="0.85"/>
<rect x="725.75" y="272.55" width="8.5" height="8.5" fill="#F5DC9E" fill-opacity="0.85"/>
<rect x="122.25" y="412.15" width="8.5" height="8.5" fill="#F2C084" fill-opacity="0.85"/>
<rect x="243.95" y="358.05" width="8.5" height="8.5" fill="#F2C084" fill-opacity="0.85"/>
<rect x="365.35" y="330.25" width="8.5" height="8.5" fill="#F2C084" fill-opacity="0.85"/>
<rect x="484.25" y="326.35" width="8.5" height="8.5" fill="#F2C084" fill-opacity="0.85"/>
<rect x="604.25" y="297.55" width="8.5" height="8.5" fill="#F2C084" fill-opacity="0.85"/>
<rect x="725.75" y="292.65" width="8.5" height="8.5" fill="#F2C084" fill-opacity="0.85"/>
<rect x="122.25" y="431.15" width="8.5" height="8.5" fill="#EC9466" fill-opacity="0.85"/>
<rect x="243.95" y="377.35" width="8.5" height="8.5" fill="#EC9466" fill-opacity="0.85"/>
<rect x="365.35" y="355.95" width="8.5" height="8.5" fill="#EC9466" fill-opacity="0.85"/>
<rect x="484.25" y="344.25" width="8.5" height="8.5" fill="#EC9466" fill-opacity="0.85"/>
<rect x="604.25" y="317.65" width="8.5" height="8.5" fill="#EC9466" fill-opacity="0.85"/>
<rect x="725.75" y="311.35" width="8.5" height="8.5" fill="#EC9466" fill-opacity="0.85"/>
<rect x="122.25" y="441.65" width="8.5" height="8.5" fill="#DE6C52" fill-opacity="0.85"/>
<rect x="243.95" y="390.35" width="8.5" height="8.5" fill="#DE6C52" fill-opacity="0.85"/>
<rect x="365.35" y="370.65" width="8.5" height="8.5" fill="#DE6C52" fill-opacity="0.85"/>
<rect x="484.25" y="356.65" width="8.5" height="8.5" fill="#DE6C52" fill-opacity="0.85"/>
<rect x="604.25" y="328.95" width="8.5" height="8.5" fill="#DE6C52" fill-opacity="0.85"/>
<rect x="725.75" y="325.05" width="8.5" height="8.5" fill="#DE6C52" fill-opacity="0.85"/>
<rect x="122.25" y="461.15" width="8.5" height="8.5" fill="#CC4B3C" fill-opacity="0.85"/>
<rect x="243.95" y="411.15" width="8.5" height="8.5" fill="#CC4B3C" fill-opacity="0.85"/>
<rect x="365.35" y="395.65" width="8.5" height="8.5" fill="#CC4B3C" fill-opacity="0.85"/>
<rect x="484.25" y="376.45" width="8.5" height="8.5" fill="#CC4B3C" fill-opacity="0.85"/>
<rect x="604.25" y="348.75" width="8.5" height="8.5" fill="#CC4B3C" fill-opacity="0.85"/>
<rect x="725.75" y="345.65" width="8.5" height="8.5" fill="#CC4B3C" fill-opacity="0.85"/>
<circle cx="126.5" cy="259.1" r="2.8" fill="#111"/>
<circle cx="248.2" cy="245.1" r="2.8" fill="#111"/>
<circle cx="369.6" cy="232.1" r="2.8" fill="#111"/>
<circle cx="488.5" cy="219.5" r="2.8" fill="#111"/>
<circle cx="608.5" cy="207.4" r="2.8" fill="#111"/>
<circle cx="730" cy="195.9" r="2.8" fill="#111"/>
<circle cx="126.5" cy="288.1" r="2.8" fill="#111"/>
<circle cx="248.2" cy="273.5" r="2.8" fill="#111"/>
<circle cx="369.6" cy="258.9" r="2.8" fill="#111"/>
<circle cx="488.5" cy="245.4" r="2.8" fill="#111"/>
<circle cx="608.5" cy="232.3" r="2.8" fill="#111"/>
<circle cx="730" cy="219.5" r="2.8" fill="#111"/>
<circle cx="126.5" cy="327.5" r="2.8" fill="#111"/>
<circle cx="248.2" cy="311.4" r="2.8" fill="#111"/>
<circle cx="369.6" cy="296" r="2.8" fill="#111"/>
<circle cx="488.5" cy="281.1" r="2.8" fill="#111"/>
<circle cx="608.5" cy="266.7" r="2.8" fill="#111"/>
<circle cx="730" cy="252.3" r="2.8" fill="#111"/>
<circle cx="126.5" cy="347.9" r="2.8" fill="#111"/>
<circle cx="248.2" cy="331.8" r="2.8" fill="#111"/>
<circle cx="369.6" cy="315.9" r="2.8" fill="#111"/>
<circle cx="488.5" cy="300.2" r="2.8" fill="#111"/>
<circle cx="608.5" cy="284.9" r="2.8" fill="#111"/>
<circle cx="730" cy="270.3" r="2.8" fill="#111"/>
<circle cx="126.5" cy="369.1" r="2.8" fill="#111"/>
<circle cx="248.2" cy="352.4" r="2.8" fill="#111"/>
<circle cx="369.6" cy="335.9" r="2.8" fill="#111"/>
<circle cx="488.5" cy="320.1" r="2.8" fill="#111"/>
<circle cx="608.5" cy="304.1" r="2.8" fill="#111"/>
<circle cx="730" cy="289" r="2.8" fill="#111"/>
<circle cx="126.5" cy="390" r="2.8" fill="#111"/>
<circle cx="248.2" cy="373.4" r="2.8" fill="#111"/>
<circle cx="369.6" cy="356.5" r="2.8" fill="#111"/>
<circle cx="488.5" cy="340.6" r="2.8" fill="#111"/>
<circle cx="608.5" cy="324.2" r="2.8" fill="#111"/>
<circle cx="730" cy="308.3" r="2.8" fill="#111"/>
<circle cx="126.5" cy="403" r="2.8" fill="#111"/>
<circle cx="248.2" cy="386" r="2.8" fill="#111"/>
<circle cx="369.6" cy="369.1" r="2.8" fill="#111"/>
<circle cx="488.5" cy="352.5" r="2.8" fill="#111"/>
<circle cx="608.5" cy="336.1" r="2.8" fill="#111"/>
<circle cx="730" cy="319.6" r="2.8" fill="#111"/>
<circle cx="126.5" cy="424.6" r="2.8" fill="#111"/>
<circle cx="248.2" cy="407.2" r="2.8" fill="#111"/>
<circle cx="369.6" cy="390.1" r="2.8" fill="#111"/>
<circle cx="488.5" cy="373.5" r="2.8" fill="#111"/>
<circle cx="608.5" cy="356.8" r="2.8" fill="#111"/>
<circle cx="730" cy="339.8" r="2.8" fill="#111"/>
<text class="s" x="126.5" y="528" font-size="14.9" text-anchor="middle" fill="#4D4D4D" stroke="#4D4D4D" stroke-width="0.22">Q2</text>
<text class="s" x="126.5" y="545.6" font-size="14.9" text-anchor="middle" fill="#4D4D4D" stroke="#4D4D4D" stroke-width="0.22">2024</text>
<text class="s" x="248.2" y="528" font-size="14.9" text-anchor="middle" fill="#4D4D4D" stroke="#4D4D4D" stroke-width="0.22">Q3</text>
<text class="s" x="369.6" y="528" font-size="14.9" text-anchor="middle" fill="#4D4D4D" stroke="#4D4D4D" stroke-width="0.22">Q4</text>
<text class="s" x="488.5" y="528" font-size="14.9" text-anchor="middle" fill="#4D4D4D" stroke="#4D4D4D" stroke-width="0.22">Q1</text>
<text class="s" x="488.5" y="545.6" font-size="14.9" text-anchor="middle" fill="#4D4D4D" stroke="#4D4D4D" stroke-width="0.22">2025</text>
<text class="s" x="608.5" y="528" font-size="14.9" text-anchor="middle" fill="#4D4D4D" stroke="#4D4D4D" stroke-width="0.22">Q2</text>
<text class="s" x="730" y="528" font-size="14.9" text-anchor="middle" fill="#4D4D4D" stroke="#4D4D4D" stroke-width="0.22">Q3</text>
<text class="s" x="0" y="0" font-size="16.85" font-weight="bold" fill="#111" text-anchor="middle" transform="translate(64.4,302) rotate(-90)">Predicted Success Rate</text>
<text class="s" font-size="14" fill="#7F7F7F" stroke="#7F7F7F" stroke-width="0.22"><tspan x="752.8" y="147.3">Task</tspan><tspan x="752.8" y="164.8">duration</tspan></text>
<text class="s" font-size="14" fill="#7F7F7F" stroke="#7F7F7F" stroke-width="0.22"><tspan x="858.3" y="138.9">Failure&#8722;rate</tspan><tspan x="858.3" y="156.3">halving time</tspan><tspan x="858.3" y="173.8">[Pooled model, 90% CI]</tspan></text>
<text class="s" x="752.6" y="214.5" font-size="14" font-weight="bold" fill="#2F4B8A">5 minutes</text>
<text class="s" x="857.6" y="214.5" font-size="13.65" fill="#2F4B8A" stroke="#2F4B8A" stroke-width="0.22">2.40 y [2.04, 2.90]</text>
<text class="s" x="752.6" y="234" font-size="14" font-weight="bold" fill="#5D87BE">15 minutes</text>
<text class="s" x="857.6" y="234" font-size="13.65" fill="#5D87BE" stroke="#5D87BE" stroke-width="0.22">2.51 y [2.13, 3.03]</text>
<text class="s" x="752.6" y="253.5" font-size="14" font-weight="bold" fill="#A7B6A9">1 hour</text>
<text class="s" x="857.6" y="253.5" font-size="13.65" fill="#A7B6A9" stroke="#A7B6A9" stroke-width="0.22">2.68 y [2.27, 3.23]</text>
<text class="s" x="752.6" y="273" font-size="14" font-weight="bold" fill="#F2D38A">2 hours</text>
<text class="s" x="857.6" y="273" font-size="13.65" fill="#F2D38A" stroke="#F2D38A" stroke-width="0.22">2.77 y [2.35, 3.34]</text>
<text class="s" x="752.6" y="292.5" font-size="14" font-weight="bold" fill="#EDB172">4 hours</text>
<text class="s" x="857.6" y="292.5" font-size="13.65" fill="#EDB172" stroke="#EDB172" stroke-width="0.22">2.88 y [2.44, 3.48]</text>
<text class="s" x="752.6" y="312" font-size="14" font-weight="bold" fill="#E0885C">8 hours</text>
<text class="s" x="857.6" y="312" font-size="13.65" fill="#E0885C" stroke="#E0885C" stroke-width="0.22">3.01 y [2.54, 3.63]</text>
<text class="s" x="752.6" y="331.5" font-size="14" font-weight="bold" fill="#CF5C47">12 hours</text>
<text class="s" x="857.6" y="331.5" font-size="13.65" fill="#CF5C47" stroke="#CF5C47" stroke-width="0.22">3.09 y [2.61, 3.73]</text>
<text class="s" x="752.6" y="351" font-size="14" font-weight="bold" fill="#B83A2F">24 hours</text>
<text class="s" x="857.6" y="351" font-size="13.65" fill="#B83A2F" stroke="#B83A2F" stroke-width="0.22">3.24 y [2.73, 3.93]</text>
<rect x="357.5" y="592.7" width="14" height="13.5" fill="#999"/>
<text class="s" x="385" y="605" font-size="14.8" fill="#111" stroke="#111" stroke-width="0.22">Flexible model</text>
<circle cx="501" cy="599.8" r="3.2" fill="#111"/>
<text class="s" x="521.4" y="605" font-size="14.8" fill="#111" stroke="#111" stroke-width="0.22">Pooled model</text>
<line x1="106.5" x2="855.7" y1="714.89" y2="714.89" stroke="#EBEBEB" stroke-width="1.1"/>
<line x1="106.5" x2="855.7" y1="762.56" y2="762.56" stroke="#EBEBEB" stroke-width="1.1"/>
<line x1="106.5" x2="855.7" y1="789.47" y2="789.47" stroke="#EBEBEB" stroke-width="1.1"/>
<line x1="106.5" x2="855.7" y1="806.44" y2="806.44" stroke="#EBEBEB" stroke-width="1.1"/>
<line x1="106.5" x2="855.7" y1="840.4" y2="840.4" stroke="#EBEBEB" stroke-width="1.1"/>
<line x1="106.5" x2="855.7" y1="874.36" y2="874.36" stroke="#EBEBEB" stroke-width="1.1"/>
<line x1="106.5" x2="855.7" y1="901.27" y2="901.27" stroke="#EBEBEB" stroke-width="1.1"/>
<line x1="106.5" x2="855.7" y1="940.69" y2="940.69" stroke="#EBEBEB" stroke-width="1.1"/>
<line x1="106.5" x2="855.7" y1="997.09" y2="997.09" stroke="#EBEBEB" stroke-width="1.1"/>
<line x1="126.5" x2="126.5" y1="656.9" y2="1076.8" stroke="#EBEBEB" stroke-width="1.1"/>
<line x1="248.2" x2="248.2" y1="656.9" y2="1076.8" stroke="#EBEBEB" stroke-width="1.1"/>
<line x1="369.6" x2="369.6" y1="656.9" y2="1076.8" stroke="#EBEBEB" stroke-width="1.1"/>
<line x1="488.5" x2="488.5" y1="656.9" y2="1076.8" stroke="#EBEBEB" stroke-width="1.1"/>
<line x1="608.5" x2="608.5" y1="656.9" y2="1076.8" stroke="#EBEBEB" stroke-width="1.1"/>
<line x1="730" x2="730" y1="656.9" y2="1076.8" stroke="#EBEBEB" stroke-width="1.1"/>
<text class="s" x="100.6" y="720.19" font-size="14.9" text-anchor="end" fill="#4D4D4D" stroke="#4D4D4D" stroke-width="0.22">1w</text>
<text class="s" x="100.6" y="767.86" font-size="14.9" text-anchor="end" fill="#4D4D4D" stroke="#4D4D4D" stroke-width="0.22">1d</text>
<text class="s" x="100.6" y="794.77" font-size="14.9" text-anchor="end" fill="#4D4D4D" stroke="#4D4D4D" stroke-width="0.22">8h</text>
<text class="s" x="100.6" y="811.74" font-size="14.9" text-anchor="end" fill="#4D4D4D" stroke="#4D4D4D" stroke-width="0.22">4h</text>
<text class="s" x="100.6" y="845.7" font-size="14.9" text-anchor="end" fill="#4D4D4D" stroke="#4D4D4D" stroke-width="0.22">1h</text>
<text class="s" x="100.6" y="879.66" font-size="14.9" text-anchor="end" fill="#4D4D4D" stroke="#4D4D4D" stroke-width="0.22">15m</text>
<text class="s" x="100.6" y="906.57" font-size="14.9" text-anchor="end" fill="#4D4D4D" stroke="#4D4D4D" stroke-width="0.22">5m</text>
<text class="s" x="100.6" y="945.99" font-size="14.9" text-anchor="end" fill="#4D4D4D" stroke="#4D4D4D" stroke-width="0.22">1m</text>
<text class="s" x="100.6" y="1002.39" font-size="14.9" text-anchor="end" fill="#4D4D4D" stroke="#4D4D4D" stroke-width="0.22">6s</text>
<polygon points="126.5,761.5 138.5,760.02 150.5,758.54 162.5,757.06 174.5,755.58 186.5,754.1 198.5,752.62 210.5,751.14 222.5,749.66 234.5,748.18 246.5,746.7 258.5,745.21 270.5,743.71 282.5,742.22 294.5,740.73 306.5,739.23 318.5,737.74 330.5,736.25 342.5,734.75 354.5,733.26 366.5,731.76 378.5,730.25 390.5,728.73 402.5,727.21 414.5,725.69 426.5,724.16 438.5,722.64 450.5,721.12 462.5,719.6 474.5,718.08 486.5,716.55 498.5,715.06 510.5,713.57 522.5,712.08 534.5,710.59 546.5,709.1 558.5,707.61 570.5,706.13 582.5,704.64 594.5,703.15 606.5,701.66 618.5,700.17 630.5,698.69 642.5,697.21 654.5,695.73 666.5,694.24 678.5,692.76 690.5,691.28 702.5,689.8 714.5,688.31 726.5,686.83 730,686.4 730,722.4 726.5,722.75 714.5,723.93 702.5,725.11 690.5,726.3 678.5,727.48 666.5,728.67 654.5,729.85 642.5,731.03 630.5,732.22 618.5,733.4 606.5,734.59 594.5,735.78 582.5,736.97 570.5,738.16 558.5,739.35 546.5,740.54 534.5,741.73 522.5,742.92 510.5,744.12 498.5,745.31 486.5,746.5 474.5,747.73 462.5,748.95 450.5,750.17 438.5,751.4 426.5,752.62 414.5,753.84 402.5,755.07 390.5,756.29 378.5,757.51 366.5,758.73 354.5,759.93 342.5,761.12 330.5,762.32 318.5,763.51 306.5,764.71 294.5,765.9 282.5,767.1 270.5,768.29 258.5,769.49 246.5,770.68 234.5,771.86 222.5,773.04 210.5,774.23 198.5,775.41 186.5,776.59 174.5,777.77 162.5,778.95 150.5,780.14 138.5,781.32 126.5,782.5" fill="#2F52A0" fill-opacity="0.13"/>
<polygon points="126.5,822.9 138.5,821.52 150.5,820.14 162.5,818.76 174.5,817.38 186.5,816 198.5,814.62 210.5,813.24 222.5,811.85 234.5,810.47 246.5,809.09 258.5,807.73 270.5,806.36 282.5,805 294.5,803.63 306.5,802.27 318.5,800.91 330.5,799.54 342.5,798.18 354.5,796.81 366.5,795.45 378.5,794.06 390.5,792.65 402.5,791.25 414.5,789.85 426.5,788.45 438.5,787.04 450.5,785.64 462.5,784.24 474.5,782.84 486.5,781.43 498.5,780.07 510.5,778.71 522.5,777.35 534.5,775.99 546.5,774.63 558.5,773.27 570.5,771.91 582.5,770.55 594.5,769.19 606.5,767.83 618.5,766.43 630.5,765.03 642.5,763.63 654.5,762.23 666.5,760.82 678.5,759.42 690.5,758.02 702.5,756.61 714.5,755.21 726.5,753.81 730,753.4 730,773.4 726.5,773.79 714.5,775.13 702.5,776.48 690.5,777.82 678.5,779.16 666.5,780.51 654.5,781.85 642.5,783.19 630.5,784.54 618.5,785.88 606.5,787.21 594.5,788.51 582.5,789.82 570.5,791.12 558.5,792.42 546.5,793.72 534.5,795.02 522.5,796.32 510.5,797.62 498.5,798.92 486.5,800.22 474.5,801.57 462.5,802.91 450.5,804.25 438.5,805.59 426.5,806.94 414.5,808.28 402.5,809.62 390.5,810.97 378.5,812.31 366.5,813.64 354.5,814.95 342.5,816.25 330.5,817.56 318.5,818.86 306.5,820.16 294.5,821.47 282.5,822.77 270.5,824.08 258.5,825.38 246.5,826.69 234.5,828.01 222.5,829.33 210.5,830.65 198.5,831.97 186.5,833.29 174.5,834.62 162.5,835.94 150.5,837.26 138.5,838.58 126.5,839.9" fill="#D8B434" fill-opacity="0.13"/>
<polygon points="126.5,882.2 138.5,880.92 150.5,879.64 162.5,878.36 174.5,877.07 186.5,875.79 198.5,874.51 210.5,873.23 222.5,871.95 234.5,870.67 246.5,869.39 258.5,868.1 270.5,866.82 282.5,865.53 294.5,864.25 306.5,862.96 318.5,861.68 330.5,860.4 342.5,859.11 354.5,857.83 366.5,856.54 378.5,855.3 390.5,854.08 402.5,852.86 414.5,851.64 426.5,850.41 438.5,849.19 450.5,847.97 462.5,846.75 474.5,845.53 486.5,844.3 498.5,843.04 510.5,841.77 522.5,840.5 534.5,839.23 546.5,837.96 558.5,836.69 570.5,835.42 582.5,834.15 594.5,832.88 606.5,831.61 618.5,830.31 630.5,829.01 642.5,827.7 654.5,826.4 666.5,825.1 678.5,823.79 690.5,822.49 702.5,821.19 714.5,819.88 726.5,818.58 730,818.2 730,838.2 726.5,838.62 714.5,840.06 702.5,841.51 690.5,842.95 678.5,844.39 666.5,845.83 654.5,847.28 642.5,848.72 630.5,850.16 618.5,851.6 606.5,853.04 594.5,854.45 582.5,855.86 570.5,857.27 558.5,858.68 546.5,860.09 534.5,861.5 522.5,862.91 510.5,864.32 498.5,865.73 486.5,867.13 474.5,868.49 462.5,869.85 450.5,871.21 438.5,872.57 426.5,873.93 414.5,875.3 402.5,876.66 390.5,878.02 378.5,879.38 366.5,880.76 354.5,882.18 342.5,883.61 330.5,885.03 318.5,886.45 306.5,887.88 294.5,889.3 282.5,890.72 270.5,892.15 258.5,893.57 246.5,895 234.5,896.42 222.5,897.84 210.5,899.26 198.5,900.68 186.5,902.1 174.5,903.52 162.5,904.94 150.5,906.36 138.5,907.78 126.5,909.2" fill="#EA9462" fill-opacity="0.13"/>
<polygon points="126.5,949.4 138.5,948.22 150.5,947.04 162.5,945.85 174.5,944.67 186.5,943.49 198.5,942.31 210.5,941.13 222.5,939.95 234.5,938.76 246.5,937.58 258.5,936.43 270.5,935.29 282.5,934.14 294.5,932.99 306.5,931.85 318.5,930.7 330.5,929.56 342.5,928.41 354.5,927.27 366.5,926.12 378.5,924.96 390.5,923.78 402.5,922.61 414.5,921.43 426.5,920.26 438.5,919.09 450.5,917.91 462.5,916.74 474.5,915.57 486.5,914.39 498.5,913.24 510.5,912.09 522.5,910.94 534.5,909.79 546.5,908.64 558.5,907.48 570.5,906.33 582.5,905.18 594.5,904.03 606.5,902.88 618.5,901.73 630.5,900.57 642.5,899.42 654.5,898.26 666.5,897.11 678.5,895.95 690.5,894.8 702.5,893.65 714.5,892.49 726.5,891.34 730,891 730,923 726.5,923.44 714.5,924.95 702.5,926.47 690.5,927.98 678.5,929.49 666.5,931 654.5,932.51 642.5,934.03 630.5,935.54 618.5,937.05 606.5,938.56 594.5,940.07 582.5,941.58 570.5,943.09 558.5,944.6 546.5,946.11 534.5,947.62 522.5,949.13 510.5,950.64 498.5,952.14 486.5,953.66 474.5,955.19 462.5,956.72 450.5,958.25 438.5,959.78 426.5,961.31 414.5,962.84 402.5,964.38 390.5,965.91 378.5,967.44 366.5,968.96 354.5,970.47 342.5,971.97 330.5,973.47 318.5,974.98 306.5,976.48 294.5,977.98 282.5,979.49 270.5,980.99 258.5,982.49 246.5,984 234.5,985.54 222.5,987.08 210.5,988.62 198.5,990.16 186.5,991.7 174.5,993.24 162.5,994.78 150.5,996.32 138.5,997.86 126.5,999.4" fill="#BE3A2E" fill-opacity="0.13"/>
<g stroke="#5B6E95" stroke-opacity="0.5" stroke-width="1.1">
<line x1="126.5" x2="126.5" y1="794.4" y2="825.7"/>
<line x1="121" x2="132" y1="794.4" y2="794.4"/>
<line x1="121" x2="132" y1="825.7" y2="825.7"/>
</g>
<g stroke="#5B6E95" stroke-opacity="0.5" stroke-width="1.1">
<line x1="248.2" x2="248.2" y1="744.2" y2="785.9"/>
<line x1="242.7" x2="253.7" y1="744.2" y2="744.2"/>
<line x1="242.7" x2="253.7" y1="785.9" y2="785.9"/>
</g>
<g stroke="#5B6E95" stroke-opacity="0.5" stroke-width="1.1">
<line x1="369.6" x2="369.6" y1="736.5" y2="772.2"/>
<line x1="364.1" x2="375.1" y1="736.5" y2="736.5"/>
<line x1="364.1" x2="375.1" y1="772.2" y2="772.2"/>
</g>
<g stroke="#5B6E95" stroke-opacity="0.5" stroke-width="1.1">
<line x1="488.5" x2="488.5" y1="708" y2="762.8"/>
<line x1="483" x2="494" y1="708" y2="708"/>
<line x1="483" x2="494" y1="762.8" y2="762.8"/>
</g>
<g stroke="#5B6E95" stroke-opacity="0.5" stroke-width="1.1">
<line x1="608.5" x2="608.5" y1="692.5" y2="736.4"/>
<line x1="603" x2="614" y1="692.5" y2="692.5"/>
<line x1="603" x2="614" y1="736.4" y2="736.4"/>
</g>
<g stroke="#5B6E95" stroke-opacity="0.5" stroke-width="1.1">
<line x1="730" x2="730" y1="694.3" y2="733.7"/>
<line x1="724.5" x2="735.5" y1="694.3" y2="694.3"/>
<line x1="724.5" x2="735.5" y1="733.7" y2="733.7"/>
</g>
<g stroke="#AF9C56" stroke-opacity="0.5" stroke-width="1.1">
<line x1="126.5" x2="126.5" y1="848.6" y2="906.1"/>
<line x1="121" x2="132" y1="848.6" y2="848.6"/>
<line x1="121" x2="132" y1="906.1" y2="906.1"/>
</g>
<g stroke="#AF9C56" stroke-opacity="0.5" stroke-width="1.1">
<line x1="248.2" x2="248.2" y1="813.2" y2="840.6"/>
<line x1="242.7" x2="253.7" y1="813.2" y2="813.2"/>
<line x1="242.7" x2="253.7" y1="840.6" y2="840.6"/>
</g>
<g stroke="#AF9C56" stroke-opacity="0.5" stroke-width="1.1">
<line x1="369.6" x2="369.6" y1="793.7" y2="814.2"/>
<line x1="364.1" x2="375.1" y1="793.7" y2="793.7"/>
<line x1="364.1" x2="375.1" y1="814.2" y2="814.2"/>
</g>
<g stroke="#AF9C56" stroke-opacity="0.5" stroke-width="1.1">
<line x1="488.5" x2="488.5" y1="786" y2="813"/>
<line x1="483" x2="494" y1="786" y2="786"/>
<line x1="483" x2="494" y1="813" y2="813"/>
</g>
<g stroke="#AF9C56" stroke-opacity="0.5" stroke-width="1.1">
<line x1="608.5" x2="608.5" y1="763.4" y2="785.9"/>
<line x1="603" x2="614" y1="763.4" y2="763.4"/>
<line x1="603" x2="614" y1="785.9" y2="785.9"/>
</g>
<g stroke="#AF9C56" stroke-opacity="0.5" stroke-width="1.1">
<line x1="730" x2="730" y1="760" y2="781.8"/>
<line x1="724.5" x2="735.5" y1="760" y2="760"/>
<line x1="724.5" x2="735.5" y1="781.8" y2="781.8"/>
</g>
<g stroke="#B68C72" stroke-opacity="0.5" stroke-width="1.1">
<line x1="126.5" x2="126.5" y1="895" y2="1004.8"/>
<line x1="121" x2="132" y1="895" y2="895"/>
<line x1="121" x2="132" y1="1004.8" y2="1004.8"/>
</g>
<g stroke="#B68C72" stroke-opacity="0.5" stroke-width="1.1">
<line x1="248.2" x2="248.2" y1="863.6" y2="919.4"/>
<line x1="242.7" x2="253.7" y1="863.6" y2="863.6"/>
<line x1="242.7" x2="253.7" y1="919.4" y2="919.4"/>
</g>
<g stroke="#B68C72" stroke-opacity="0.5" stroke-width="1.1">
<line x1="369.6" x2="369.6" y1="841.7" y2="873.7"/>
<line x1="364.1" x2="375.1" y1="841.7" y2="841.7"/>
<line x1="364.1" x2="375.1" y1="873.7" y2="873.7"/>
</g>
<g stroke="#B68C72" stroke-opacity="0.5" stroke-width="1.1">
<line x1="488.5" x2="488.5" y1="847.3" y2="890.5"/>
<line x1="483" x2="494" y1="847.3" y2="847.3"/>
<line x1="483" x2="494" y1="890.5" y2="890.5"/>
</g>
<g stroke="#B68C72" stroke-opacity="0.5" stroke-width="1.1">
<line x1="608.5" x2="608.5" y1="830.9" y2="851.1"/>
<line x1="603" x2="614" y1="830.9" y2="830.9"/>
<line x1="603" x2="614" y1="851.1" y2="851.1"/>
</g>
<g stroke="#B68C72" stroke-opacity="0.5" stroke-width="1.1">
<line x1="730" x2="730" y1="826.5" y2="843.3"/>
<line x1="724.5" x2="735.5" y1="826.5" y2="826.5"/>
<line x1="724.5" x2="735.5" y1="843.3" y2="843.3"/>
</g>
<g stroke="#A45B52" stroke-opacity="0.5" stroke-width="1.1">
<line x1="126.5" x2="126.5" y1="1004.8" y2="1058.1"/>
<line x1="121" x2="132" y1="1004.8" y2="1004.8"/>
<line x1="121" x2="132" y1="1058.1" y2="1058.1"/>
</g>
<g stroke="#A45B52" stroke-opacity="0.5" stroke-width="1.1">
<line x1="248.2" x2="248.2" y1="925" y2="1034"/>
<line x1="242.7" x2="253.7" y1="925" y2="925"/>
<line x1="242.7" x2="253.7" y1="1034" y2="1034"/>
</g>
<g stroke="#A45B52" stroke-opacity="0.5" stroke-width="1.1">
<line x1="369.6" x2="369.6" y1="893.1" y2="954.2"/>
<line x1="364.1" x2="375.1" y1="893.1" y2="893.1"/>
<line x1="364.1" x2="375.1" y1="954.2" y2="954.2"/>
</g>
<g stroke="#A45B52" stroke-opacity="0.5" stroke-width="1.1">
<line x1="488.5" x2="488.5" y1="908.5" y2="999.4"/>
<line x1="483" x2="494" y1="908.5" y2="908.5"/>
<line x1="483" x2="494" y1="999.4" y2="999.4"/>
</g>
<g stroke="#A45B52" stroke-opacity="0.5" stroke-width="1.1">
<line x1="608.5" x2="608.5" y1="897.6" y2="945.2"/>
<line x1="603" x2="614" y1="897.6" y2="897.6"/>
<line x1="603" x2="614" y1="945.2" y2="945.2"/>
</g>
<g stroke="#A45B52" stroke-opacity="0.5" stroke-width="1.1">
<line x1="730" x2="730" y1="891.2" y2="930.6"/>
<line x1="724.5" x2="735.5" y1="891.2" y2="891.2"/>
<line x1="724.5" x2="735.5" y1="930.6" y2="930.6"/>
</g>
<polyline points="126.5,772 248.2,758.5 369.6,744.9 488.5,731.3 608.5,717.9 730,704.4" fill="none" stroke="#2F52A0" stroke-width="2.25" stroke-linejoin="round"/>
<polyline points="126.5,831.4 248.2,817.7 369.6,804.2 488.5,790.6 608.5,777.3 730,763.4" fill="none" stroke="#D8B434" stroke-width="2.25" stroke-linejoin="round"/>
<polyline points="126.5,895.7 248.2,882 369.6,868.3 488.5,855.5 608.5,842.1 730,828.2" fill="none" stroke="#EA9462" stroke-width="2.25" stroke-linejoin="round"/>
<polyline points="126.5,974.4 248.2,960.6 369.6,947.2 488.5,933.8 608.5,920.5 730,907" fill="none" stroke="#BE3A2E" stroke-width="2.25" stroke-linejoin="round"/>
<rect x="122.25" y="805.75" width="8.5" height="8.5" fill="#4A6CB4" fill-opacity="0.95"/>
<rect x="243.95" y="760.75" width="8.5" height="8.5" fill="#4A6CB4" fill-opacity="0.95"/>
<rect x="365.35" y="749.95" width="8.5" height="8.5" fill="#4A6CB4" fill-opacity="0.95"/>
<rect x="484.25" y="731.25" width="8.5" height="8.5" fill="#4A6CB4" fill-opacity="0.95"/>
<rect x="604.25" y="709.65" width="8.5" height="8.5" fill="#4A6CB4" fill-opacity="0.95"/>
<rect x="725.75" y="710.35" width="8.5" height="8.5" fill="#4A6CB4" fill-opacity="0.95"/>
<rect x="122.25" y="872.75" width="8.5" height="8.5" fill="#E2C040" fill-opacity="0.95"/>
<rect x="243.95" y="823.15" width="8.5" height="8.5" fill="#E2C040" fill-opacity="0.95"/>
<rect x="365.35" y="799.45" width="8.5" height="8.5" fill="#E2C040" fill-opacity="0.95"/>
<rect x="484.25" y="795.25" width="8.5" height="8.5" fill="#E2C040" fill-opacity="0.95"/>
<rect x="604.25" y="770.35" width="8.5" height="8.5" fill="#E2C040" fill-opacity="0.95"/>
<rect x="725.75" y="767.45" width="8.5" height="8.5" fill="#E2C040" fill-opacity="0.95"/>
<rect x="122.25" y="945.95" width="8.5" height="8.5" fill="#F0A274" fill-opacity="0.95"/>
<rect x="243.95" y="890.15" width="8.5" height="8.5" fill="#F0A274" fill-opacity="0.95"/>
<rect x="365.35" y="853.15" width="8.5" height="8.5" fill="#F0A274" fill-opacity="0.95"/>
<rect x="484.25" y="864.75" width="8.5" height="8.5" fill="#F0A274" fill-opacity="0.95"/>
<rect x="604.25" y="836.05" width="8.5" height="8.5" fill="#F0A274" fill-opacity="0.95"/>
<rect x="725.75" y="830.65" width="8.5" height="8.5" fill="#F0A274" fill-opacity="0.95"/>
<rect x="122.25" y="1034.55" width="8.5" height="8.5" fill="#CF4A3A" fill-opacity="0.95"/>
<rect x="243.95" y="972.35" width="8.5" height="8.5" fill="#CF4A3A" fill-opacity="0.95"/>
<rect x="365.35" y="919.15" width="8.5" height="8.5" fill="#CF4A3A" fill-opacity="0.95"/>
<rect x="484.25" y="949.75" width="8.5" height="8.5" fill="#CF4A3A" fill-opacity="0.95"/>
<rect x="604.25" y="916.65" width="8.5" height="8.5" fill="#CF4A3A" fill-opacity="0.95"/>
<rect x="725.75" y="906.55" width="8.5" height="8.5" fill="#CF4A3A" fill-opacity="0.95"/>
<circle cx="126.5" cy="772" r="2.8" fill="#111"/>
<circle cx="248.2" cy="758.5" r="2.8" fill="#111"/>
<circle cx="369.6" cy="744.9" r="2.8" fill="#111"/>
<circle cx="488.5" cy="731.3" r="2.8" fill="#111"/>
<circle cx="608.5" cy="717.9" r="2.8" fill="#111"/>
<circle cx="730" cy="704.4" r="2.8" fill="#111"/>
<circle cx="126.5" cy="831.4" r="2.8" fill="#111"/>
<circle cx="248.2" cy="817.7" r="2.8" fill="#111"/>
<circle cx="369.6" cy="804.2" r="2.8" fill="#111"/>
<circle cx="488.5" cy="790.6" r="2.8" fill="#111"/>
<circle cx="608.5" cy="777.3" r="2.8" fill="#111"/>
<circle cx="730" cy="763.4" r="2.8" fill="#111"/>
<circle cx="126.5" cy="895.7" r="2.8" fill="#111"/>
<circle cx="248.2" cy="882" r="2.8" fill="#111"/>
<circle cx="369.6" cy="868.3" r="2.8" fill="#111"/>
<circle cx="488.5" cy="855.5" r="2.8" fill="#111"/>
<circle cx="608.5" cy="842.1" r="2.8" fill="#111"/>
<circle cx="730" cy="828.2" r="2.8" fill="#111"/>
<circle cx="126.5" cy="974.4" r="2.8" fill="#111"/>
<circle cx="248.2" cy="960.6" r="2.8" fill="#111"/>
<circle cx="369.6" cy="947.2" r="2.8" fill="#111"/>
<circle cx="488.5" cy="933.8" r="2.8" fill="#111"/>
<circle cx="608.5" cy="920.5" r="2.8" fill="#111"/>
<circle cx="730" cy="907" r="2.8" fill="#111"/>
<text class="s" x="126.5" y="1093.4" font-size="14.9" text-anchor="middle" fill="#4D4D4D" stroke="#4D4D4D" stroke-width="0.22">Q2</text>
<text class="s" x="126.5" y="1111" font-size="14.9" text-anchor="middle" fill="#4D4D4D" stroke="#4D4D4D" stroke-width="0.22">2024</text>
<text class="s" x="248.2" y="1093.4" font-size="14.9" text-anchor="middle" fill="#4D4D4D" stroke="#4D4D4D" stroke-width="0.22">Q3</text>
<text class="s" x="369.6" y="1093.4" font-size="14.9" text-anchor="middle" fill="#4D4D4D" stroke="#4D4D4D" stroke-width="0.22">Q4</text>
<text class="s" x="488.5" y="1093.4" font-size="14.9" text-anchor="middle" fill="#4D4D4D" stroke="#4D4D4D" stroke-width="0.22">Q1</text>
<text class="s" x="488.5" y="1111" font-size="14.9" text-anchor="middle" fill="#4D4D4D" stroke="#4D4D4D" stroke-width="0.22">2025</text>
<text class="s" x="608.5" y="1093.4" font-size="14.9" text-anchor="middle" fill="#4D4D4D" stroke="#4D4D4D" stroke-width="0.22">Q2</text>
<text class="s" x="730" y="1093.4" font-size="14.9" text-anchor="middle" fill="#4D4D4D" stroke="#4D4D4D" stroke-width="0.22">Q3</text>
<text class="s" x="0" y="0" font-size="16.85" font-weight="bold" fill="#111" text-anchor="middle" transform="translate(64.4,867.4) rotate(-90)">Task Duration Threshold</text>
<text class="s" font-size="14" fill="#7F7F7F" stroke="#7F7F7F" stroke-width="0.22"><tspan x="752.3" y="671.6">Success</tspan><tspan x="752.3" y="689">threshold</tspan></text>
<text class="s" font-size="14" fill="#7F7F7F" stroke="#7F7F7F" stroke-width="0.22"><tspan x="858.3" y="671.6">Doubling time</tspan><tspan x="858.3" y="689">[Pooled model, 90% CI]</tspan></text>
<text class="s" x="752.3" y="706.5" font-size="14" font-weight="bold" fill="#3552A0">50%</text>
<text class="s" x="857.6" y="706.5" font-size="13.65" fill="#3552A0" stroke="#3552A0" stroke-width="0.22">3.8 mo [2.9, 4.6]</text>
<text class="s" x="752.3" y="775.4" font-size="14" font-weight="bold" fill="#DDB93A">60%</text>
<text class="s" x="857.6" y="775.4" font-size="13.65" fill="#DDB93A" stroke="#DDB93A" stroke-width="0.22">3.8 mo [2.9, 4.6]</text>
<text class="s" x="752.3" y="843.8" font-size="14" font-weight="bold" fill="#E8925E">70%</text>
<text class="s" x="857.6" y="843.8" font-size="13.65" fill="#E8925E" stroke="#E8925E" stroke-width="0.22">3.8 mo [2.9, 4.6]</text>
<text class="s" x="752.3" y="913" font-size="14" font-weight="bold" fill="#B83A2F">80%</text>
<text class="s" x="857.6" y="913" font-size="13.65" fill="#B83A2F" stroke="#B83A2F" stroke-width="0.22">3.8 mo [2.9, 4.6]</text>
<rect x="357.5" y="1158.1" width="14" height="13.5" fill="#999"/>
<text class="s" x="385" y="1170.4" font-size="14.8" fill="#111" stroke="#111" stroke-width="0.22">Flexible model</text>
<circle cx="501" cy="1165.2" r="3.2" fill="#111"/>
<text class="s" x="521.4" y="1170.4" font-size="14.8" fill="#111" stroke="#111" stroke-width="0.22">Pooled model</text>
</svg>
</body></html>
